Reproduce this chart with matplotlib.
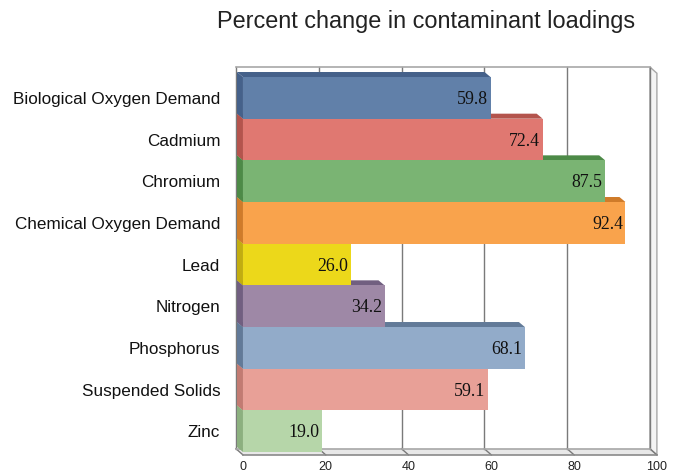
"""
    Percent change in contaminant loadings - pseudo 3D horizontal bars
"""

import matplotlib
matplotlib.use("Agg")
import matplotlib.pyplot as plt
from matplotlib.patches import Polygon

#####################################################################################################

categories = ["Biological Oxygen Demand", "Cadmium", "Chromium", "Chemical Oxygen Demand",
              "Lead", "Nitrogen", "Phosphorus", "Suspended Solids", "Zinc"]
values = [59.8, 72.4, 87.5, 92.4, 26.0, 34.2, 68.1, 59.1, 19.0]
front_colors = ["#6180a9", "#e07871", "#7ab473", "#f9a34c", "#ecd81a",
                "#9e88a6", "#92abc9", "#e8a097", "#b6d6a9"]
top_colors = ["#45618a", "#b4544d", "#4d8a47", "#cf7b2a", "#c2ad10",
              "#715f80", "#627a98", "#c27b72", "#8cb07f"]
xticks = [0, 20, 40, 60, 80, 100]

# depth of the fake 3D (data units)
BAR_DX, BAR_DY = 1.45, 0.12
BOX_DX, BOX_DY = 1.7, 0.15
BOX_TOP = -0.74
BOX_FLOOR = 8.5 + 0.07
EDGE = "#a8a8a8"


def run():
    plt.rcParams["font.family"] = ["Liberation Sans", "DejaVu Sans"]
    fig = plt.figure(figsize=(6.79, 4.74), dpi=100)
    ax = fig.add_axes([0.3426, 0.0295, 0.634, 0.8439])
    ax.set_xlim(-2.5, 101.5)
    ax.set_ylim(8.692, -0.908)

    # back wall + grid
    bx = -BOX_DX
    ax.add_patch(Polygon([(bx, BOX_TOP), (100 + bx, BOX_TOP), (100 + bx, BOX_FLOOR - BOX_DY),
                          (bx, BOX_FLOOR - BOX_DY)], closed=True, fc="white", ec="none", zorder=0))
    for v in xticks:
        ax.plot([v + bx, v + bx], [BOX_TOP, BOX_FLOOR - BOX_DY], color="#7a7a7a", lw=1.0, zorder=1)
        # little floor edge going to the front
        ax.plot([v + bx, v], [BOX_FLOOR - BOX_DY, BOX_FLOOR], color="#7a7a7a", lw=1.0, zorder=1)
    ax.plot([bx, 100 + bx], [BOX_TOP, BOX_TOP], color=EDGE, lw=1.2, zorder=1)
    ax.plot([bx, 100 + bx], [BOX_FLOOR - BOX_DY, BOX_FLOOR - BOX_DY], color=EDGE, lw=1.2, zorder=1)
    # floor strip
    ax.add_patch(Polygon([(bx, BOX_FLOOR - BOX_DY), (100 + bx, BOX_FLOOR - BOX_DY), (100, BOX_FLOOR),
                          (0, BOX_FLOOR)], closed=True, fc="#e8e8e8", ec="none", zorder=0.5))
    ax.plot([0, 100], [BOX_FLOOR, BOX_FLOOR], color="#8a8a8a", lw=1.2, zorder=1)
    # right side panel
    ax.add_patch(Polygon([(100 + bx, BOX_TOP), (100, BOX_TOP + BOX_DY), (100, BOX_FLOOR),
                          (100 + bx, BOX_FLOOR - BOX_DY)], closed=True, fc="#f4f4f4", ec=EDGE,
                         lw=1.0, zorder=0.5))

    # bars, drawn bottom-up so the upper bars hide the top faces of the lower ones
    for i in range(len(values) - 1, -1, -1):
        v = values[i]
        yt, yb = i - 0.5, i + 0.5
        top = Polygon([(0, yt), (v, yt), (v - BAR_DX, yt - BAR_DY), (-BAR_DX, yt - BAR_DY)],
                      closed=True, fc=top_colors[i], ec="none", zorder=2)
        side = Polygon([(0, yb), (0, yt), (-BAR_DX, yt - BAR_DY), (-BAR_DX, yb - BAR_DY)],
                       closed=True, fc=top_colors[i], ec="none", zorder=2)
        ax.add_patch(top)
        ax.add_patch(side)
        ax.barh(i, v, height=1.0, left=0, color=front_colors[i], edgecolor="none", zorder=2)
        ax.text(v - 0.6, i + 0.04, "{:.1f}".format(v), ha="right", va="center",
                family="Liberation Serif", fontsize=12.8, color="#111111", zorder=3)

    ax.set_yticks(range(len(categories)))
    ax.set_yticklabels(categories, fontsize=12.3, color="#111111")
    ax.set_xticks(xticks)
    ax.set_xticklabels([str(t) for t in xticks], fontsize=9, color="#222222")
    ax.tick_params(axis="y", length=0, pad=9)
    ax.tick_params(axis="x", length=0, pad=1)
    for s in ax.spines.values():
        s.set_visible(False)

    fig.text(0.6274, 0.955, "Percent change in contaminant loadings", ha="center", va="center",
             fontsize=16.9, color="#222222")

    fig.savefig("out.png", dpi=100)


#####################################################################################################

if __name__ == "__main__":
    run()
